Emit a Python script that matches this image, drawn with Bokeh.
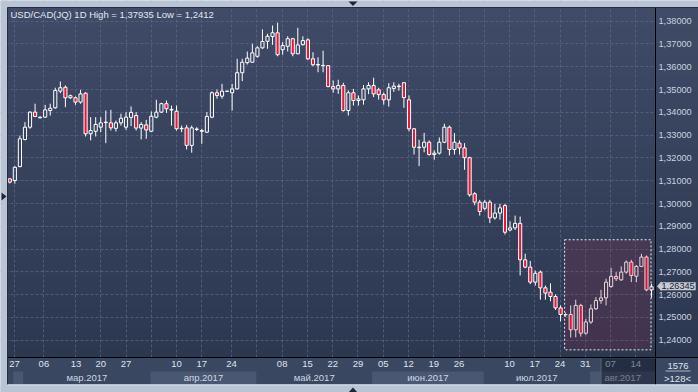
import numpy as np
from bokeh.plotting import figure
from bokeh.models import (Range1d, FixedTicker, CustomJSTickFormatter, LinearAxis,
                          BoxAnnotation, Label, PolyAnnotation, ColumnDataSource)
from bokeh.embed import file_html
from bokeh.resources import INLINE

W, H = 698, 392

# ---------------- data (USD/CAD daily candles) ----------------
opens = [1.3108, 1.3101, 1.3162, 1.3281, 1.3335, 1.3401, 1.3376, 1.3379, 1.3408, 1.3420,
         1.3493, 1.3510, 1.3464, 1.3464, 1.3445, 1.3484, 1.3306, 1.3317, 1.3335, 1.3355,
         1.3354, 1.3330, 1.3354, 1.3335, 1.3378, 1.3386, 1.3331, 1.3345, 1.3317, 1.3379,
         1.3401, 1.3438, 1.3410, 1.3405, 1.3328, 1.3332, 1.3255, 1.3325, 1.3320, 1.3313,
         1.3379, 1.3486, 1.3471, 1.3492, 1.3486, 1.3503, 1.3574, 1.3618, 1.3620, 1.3646,
         1.3683, 1.3712, 1.3733, 1.3749, 1.3675, 1.3690, 1.3723, 1.3657, 1.3697, 1.3718,
         1.3635, 1.3610, 1.3606, 1.3605, 1.3513, 1.3503, 1.3518, 1.3408, 1.3486, 1.3452,
         1.3455, 1.3503, 1.3518, 1.3499, 1.3478, 1.3455, 1.3505, 1.3515, 1.3530, 1.3455,
         1.3328, 1.3247, 1.3247, 1.3269, 1.3215, 1.3221, 1.3269, 1.3335, 1.3237, 1.3265,
         1.3244, 1.3201, 1.3043, 1.3006, 1.2979, 1.3006, 1.2937, 1.2958, 1.2991, 1.2884,
         1.2893, 1.2913, 1.2753, 1.2721, 1.2655, 1.2699, 1.2630, 1.2611, 1.2592, 1.2542,
         1.2513, 1.2513, 1.2446, 1.2553, 1.2431, 1.2480, 1.2538, 1.2574, 1.2586, 1.2636,
         1.2680, 1.2665, 1.2699, 1.2743, 1.2681, 1.2724, 1.2765, 1.2621]
highs = [1.3112, 1.3164, 1.3298, 1.3357, 1.3405, 1.3438, 1.3382, 1.3433, 1.3438, 1.3508,
         1.3535, 1.3518, 1.3478, 1.3470, 1.3499, 1.3488, 1.3379, 1.3379, 1.3379, 1.3408,
         1.3411, 1.3364, 1.3394, 1.3401, 1.3426, 1.3401, 1.3357, 1.3367, 1.3404, 1.3455,
         1.3442, 1.3452, 1.3430, 1.3430, 1.3342, 1.3345, 1.3342, 1.3335, 1.3328, 1.3401,
         1.3492, 1.3500, 1.3525, 1.3495, 1.3525, 1.3635, 1.3635, 1.3667, 1.3701, 1.3690,
         1.3764, 1.3745, 1.3781, 1.37935, 1.3708, 1.3734, 1.3727, 1.3771, 1.3734, 1.3725,
         1.3664, 1.3642, 1.3671, 1.3606, 1.3540, 1.3543, 1.3530, 1.3496, 1.3503, 1.3474,
         1.3520, 1.3532, 1.3552, 1.3508, 1.3487, 1.3528, 1.3532, 1.3525, 1.3532, 1.3474,
         1.3330, 1.3280, 1.3310, 1.3277, 1.3233, 1.3290, 1.3350, 1.3342, 1.3309, 1.3277,
         1.3265, 1.3205, 1.3050, 1.3016, 1.3016, 1.3016, 1.2999, 1.2999, 1.2999, 1.2922,
         1.2947, 1.2943, 1.2780, 1.2748, 1.2706, 1.2706, 1.2640, 1.2650, 1.2601, 1.2553,
         1.2522, 1.2553, 1.2578, 1.2560, 1.2494, 1.2557, 1.2589, 1.2621, 1.2670, 1.2718,
         1.2699, 1.2724, 1.2750, 1.2753, 1.2730, 1.2779, 1.2772, 1.2648]
lows = [1.3088, 1.3087, 1.3159, 1.3277, 1.3328, 1.3379, 1.3374, 1.3376, 1.3386, 1.3416,
        1.3484, 1.3423, 1.3459, 1.3433, 1.3438, 1.3294, 1.3277, 1.3294, 1.3313, 1.3265,
        1.3320, 1.3316, 1.3342, 1.3323, 1.3340, 1.3320, 1.3281, 1.3284, 1.3313, 1.3374,
        1.3397, 1.3398, 1.3342, 1.3320, 1.3313, 1.3237, 1.3223, 1.3318, 1.3262, 1.3309,
        1.3374, 1.3460, 1.3460, 1.3490, 1.3408, 1.3500, 1.3537, 1.3610, 1.3618, 1.3640,
        1.3679, 1.3679, 1.3696, 1.3646, 1.3653, 1.3667, 1.3646, 1.3655, 1.3693, 1.3630,
        1.3602, 1.3576, 1.3576, 1.3510, 1.3486, 1.3481, 1.3403, 1.3386, 1.3430, 1.3430,
        1.3434, 1.3480, 1.3467, 1.3456, 1.3434, 1.3425, 1.3490, 1.3495, 1.3420, 1.3317,
        1.3215, 1.3164, 1.3225, 1.3210, 1.3192, 1.3215, 1.3265, 1.3211, 1.3215, 1.3215,
        1.3148, 1.3030, 1.2992, 1.2947, 1.2970, 1.2914, 1.2929, 1.2929, 1.2864, 1.2878,
        1.2884, 1.2684, 1.2716, 1.2646, 1.2640, 1.2578, 1.2578, 1.2571, 1.2533, 1.2483,
        1.2503, 1.2412, 1.2413, 1.2416, 1.2424, 1.2472, 1.2533, 1.2560, 1.2553, 1.2630,
        1.2660, 1.2661, 1.2692, 1.2655, 1.2655, 1.2721, 1.2615, 1.2587]
closes = [1.3094, 1.3159, 1.3284, 1.3335, 1.3401, 1.3382, 1.3379, 1.3411, 1.3418, 1.3496,
          1.3508, 1.3464, 1.3473, 1.3445, 1.3481, 1.3306, 1.3320, 1.3347, 1.3354, 1.3357,
          1.3332, 1.3354, 1.3374, 1.3379, 1.3400, 1.3331, 1.3347, 1.3323, 1.3383, 1.3401,
          1.3438, 1.3416, 1.3413, 1.3328, 1.3330, 1.3255, 1.3332, 1.3327, 1.3317, 1.3382,
          1.3486, 1.3474, 1.3493, 1.3493, 1.3503, 1.3574, 1.3620, 1.3638, 1.3661, 1.3683,
          1.3711, 1.3734, 1.3749, 1.3653, 1.3693, 1.3723, 1.3657, 1.3696, 1.3715, 1.3635,
          1.3609, 1.3608, 1.3605, 1.3513, 1.3503, 1.3518, 1.3408, 1.3486, 1.3452, 1.3459,
          1.3503, 1.3518, 1.3481, 1.3478, 1.3455, 1.3508, 1.3515, 1.3513, 1.3465, 1.3328,
          1.3247, 1.3245, 1.3269, 1.3215, 1.3221, 1.3269, 1.3335, 1.3237, 1.3269, 1.3244,
          1.3201, 1.3038, 1.3006, 1.2965, 1.3006, 1.2937, 1.2958, 1.2981, 1.2874, 1.2893,
          1.2913, 1.2753, 1.2721, 1.2655, 1.2694, 1.2630, 1.2607, 1.2592, 1.2542, 1.2513,
          1.2512, 1.2446, 1.2553, 1.2431, 1.2480, 1.2538, 1.2574, 1.2586, 1.2655, 1.2680,
          1.2670, 1.2699, 1.2743, 1.2684, 1.2724, 1.2765, 1.2621, 1.26345]

price_ticks = [1.24, 1.25, 1.26, 1.27, 1.28, 1.29, 1.30, 1.31,
               1.32, 1.33, 1.34, 1.35, 1.36, 1.37, 1.38]
day_tick_pos = [0.95, 6.75, 13.1, 18, 23, 28, 33, 38, 43.9, 48.9, 53.9, 58.9, 63.9,
                68.9, 73.9, 78.9, 83.9, 88.9, 93.9, 98.9, 103.9, 108.9, 113.9, 118.9, 123.9]
day_tick_labels = ["27", "06", "13", "20", "27", "", "10", "17", "24", "", "08", "15", "22",
                   "29", "05", "12", "19", "26", "", "10", "17", "24", "31", "07", "14"]
month_edges = [0.67, 2.65, 27.85, 48.8, 71.7, 93.8, 114.8, 127.8]
month_names = ["", "мар.2017", "апр.2017", "май.2017", "июн.2017", "июл.2017", "авг.2017"]
title_text = "USD/CAD(JQ) 1D High = 1,37935 Low = 1,2412"
last_price_text = "1,26345"
corner_top_text = "1576"
corner_bottom_text = ">128<"

FONT = "Liberation Sans"

# ---------------- geometry of the panel (canvas pixels) ----------------
PX0, PX1 = 9.3, 5.053          # x pixel of candle 0 and pixels per candle
PY_REF, PY_SCALE = 20.7, 2279   # y pixel of the 1.38 line and pixels per unit price
X_PRICE_SCALE = 655            # left edge of the price scale
Y_TIME_SCALE = 357             # top edge of the time scale


def x_of(px):
    return (px - PX0) / PX1


def y_of(py):
    return 1.38 - (py - PY_REF) / PY_SCALE


# the frame covers the whole canvas so every decoration can be drawn
p = figure(width=W, height=H, title=None, output_backend="svg", toolbar_location=None,
           x_range=Range1d(x_of(0), x_of(W)), y_range=Range1d(y_of(H), y_of(0)),
           x_axis_location="below", y_axis_location="right", min_border=0)
p.background_fill_color = "#b9c5d5"
p.border_fill_color = "#b9c5d5"
p.outline_line_color = None


def cbox(l, r, t, b, color, alpha=1.0, level="image"):
    bx = BoxAnnotation(left=l, right=r, top=t, bottom=b,
                       left_units="canvas", right_units="canvas",
                       top_units="canvas", bottom_units="canvas",
                       fill_color=color, fill_alpha=alpha, line_color=None, level=level)
    p.add_layout(bx)
    return bx


# background gradient of the panel (plot + price scale)
top_rgb = np.array([63, 75, 103])
bot_rgb = np.array([44, 55, 80])
n_strips = 35
strip_cols = []
for k in range(n_strips):
    t = (k + 0.5) / n_strips
    rgb = (top_rgb * (1 - t) + bot_rgb * t).round().astype(int)
    strip_cols.append("#%02x%02x%02x" % tuple(rgb))
for k in range(n_strips):
    cbox(7, W, 7 + k * 10, 7 + (k + 1) * 10 + 0.5, strip_cols[k])

# ---------------- grid ----------------
day_ticker = FixedTicker(ticks=day_tick_pos)
price_ticker = FixedTicker(ticks=price_ticks)
p.xgrid.ticker = day_ticker
p.ygrid.ticker = price_ticker
for g in (p.xgrid[0], p.ygrid[0]):
    g.grid_line_color = "#5d6a86"
    g.grid_line_dash = "3 2"
    g.grid_line_alpha = 0.7
    g.grid_line_width = 1

# ---------------- candles ----------------
o = np.array(opens)
c = np.array(closes)
hi = np.array(highs)
lo = np.array(lows)
xs = np.arange(len(o))
body_top = np.maximum(o, c)
body_bot = np.minimum(o, c)
down = c < o
src = ColumnDataSource(dict(
    x=xs, hi=hi, lo=lo, top=body_top, bot=body_bot,
    fill=np.where(down, "#e8173c", "#ffffff"),
    falpha=np.where(down, 1.0, 0.0),
))
p.segment(x0="x", y0="hi", x1="x", y1="top", source=src, line_color="white", line_width=1)
p.segment(x0="x", y0="bot", x1="x", y1="lo", source=src, line_color="white", line_width=1)
p.vbar(x="x", width=0.62, top="top", bottom="bot", source=src,
       fill_color="fill", fill_alpha="falpha", line_color="white", line_width=1)

# price scale background (hides grid there) and time scale strip
for k in range(n_strips):
    cbox(X_PRICE_SCALE, W, 7 + k * 10, 7 + (k + 1) * 10 + 0.5, strip_cols[k], level="glyph")
cbox(7, W, Y_TIME_SCALE, 384, "#3a4761", level="glyph")
for k in range(0, len(month_edges) - 1, 2):
    p.add_layout(BoxAnnotation(left=month_edges[k], right=month_edges[k + 1],
                               left_units="data", right_units="data",
                               top=371, bottom=383.5, top_units="canvas", bottom_units="canvas",
                               fill_color="#4a5772", fill_alpha=1, line_color=None, level="glyph"))

# ---------------- axes (drawn inside the canvas-wide frame) ----------------
xa = p.xaxis[0]
xa.ticker = day_ticker
xa.fixed_location = y_of(Y_TIME_SCALE)
xa.formatter = CustomJSTickFormatter(
    args=dict(pos=day_tick_pos, labels=day_tick_labels),
    code="for (let i = 0; i < pos.length; i++) { if (Math.abs(pos[i] - tick) < 1e-6) return labels[i]; } return '';")
month_centers = [(month_edges[k] + month_edges[k + 1]) / 2 for k in range(len(month_edges) - 1)]
ma = LinearAxis(ticker=FixedTicker(ticks=month_centers),
                fixed_location=y_of(370),
                formatter=CustomJSTickFormatter(
                    args=dict(pos=month_centers, labels=month_names),
                    code="for (let i = 0; i < pos.length; i++) { if (Math.abs(pos[i] - tick) < 1e-6) return labels[i]; } return '';"))
p.add_layout(ma, "below")
for ax in (xa, ma):
    ax.axis_line_color = None
    ax.major_tick_line_color = None
    ax.minor_tick_line_color = None
    ax.major_tick_out = 0
    ax.major_tick_in = 0
    ax.major_label_text_font = FONT
    ax.major_label_text_font_size = "9.5px"
xa.major_label_text_color = "#dde3ec"
xa.major_label_standoff = 3
ma.major_label_text_color = "#cfd6e1"
ma.major_label_standoff = 1

ya = p.yaxis[0]
ya.ticker = price_ticker
ya.fixed_location = x_of(X_PRICE_SCALE)
ya.formatter = CustomJSTickFormatter(code="return tick.toFixed(5).replace('.', ',');")
ya.axis_line_color = None
ya.major_tick_line_color = None
ya.minor_tick_line_color = None
ya.major_tick_out = 0
ya.major_tick_in = 0
ya.major_label_standoff = 3
ya.major_label_text_font = FONT
ya.major_label_text_font_size = "9.2px"
ya.major_label_text_color = "#c9d2df"

# ---------------- selection overlay ----------------
p.add_layout(BoxAnnotation(left=109.8, right=126.9, bottom=1.2358, top=1.2841,
                           fill_color="#962846", fill_alpha=0.2,
                           line_color="white", line_alpha=0.9, line_width=1, line_dash="2 2"))

# dimmed part of the time scale
cbox(600.5, 654.5, 358, 384, "#0b1020", alpha=0.45, level="annotation")
cbox(600, 601, 358, 384, "#56627b", level="annotation")

# outer frame (covers whatever spills outside the panel)
frame_col = "#b9c5d5"
cbox(0, W, 0, 7, frame_col, level="annotation")
cbox(0, 7, 0, H, frame_col, level="annotation")
cbox(0, W, 384, H, frame_col, level="annotation")

# separator lines
cbox(7, W, 356.5, 357.5, "#000000", level="annotation")
cbox(654.5, 655.5, 7, 384, "#000000", level="annotation")
cbox(7, W, 6.5, 7.5, "#262e3e", level="annotation")
cbox(6.5, 7.5, 7, 384, "#262e3e", level="annotation")
cbox(7, W, 384, 385, "#d6dee9", level="annotation")

# ---------------- texts ----------------
p.add_layout(Label(x=10, y=14, x_units="canvas", y_units="canvas", text=title_text,
                   text_font=FONT, text_font_size="9.5px", text_color="#e2e7ef",
                   text_baseline="middle", text_align="left"))

# last price tag on the price scale
p.add_layout(PolyAnnotation(xs=[656.5, 661, 661], ys=[285.7, 280.7, 290.7],
                            xs_units="canvas", ys_units="canvas",
                            fill_color="#c5cbd5", fill_alpha=1, line_color=None))
p.add_layout(Label(x=660, y=285.7, x_units="canvas", y_units="canvas", text=last_price_text,
                   text_font=FONT, text_font_size="9.2px", text_color="#1b2230",
                   text_baseline="middle", text_align="left",
                   background_fill_color="#c5cbd5", background_fill_alpha=1, padding=1))

# corner of the scales
p.add_layout(Label(x=677.5, y=365, x_units="canvas", y_units="canvas", text=corner_top_text,
                   text_font=FONT, text_font_size="9.5px", text_color="#dde3ec",
                   text_baseline="middle", text_align="center"))
cbox(665, 690, 370, 371, "#aab4c4", level="annotation")
p.add_layout(Label(x=677, y=372, x_units="canvas", y_units="canvas", text=corner_bottom_text,
                   text_font=FONT, text_font_size="9.5px", text_color="#dde3ec",
                   text_baseline="top", text_align="center"))

# small triangles on the outer frame
tri_col = "#1f2636"
p.add_layout(PolyAnnotation(xs=[348, 357, 352.5], ys=[1, 1, 5.5],
                            xs_units="canvas", ys_units="canvas",
                            fill_color=tri_col, fill_alpha=1, line_color=None))
p.add_layout(PolyAnnotation(xs=[348, 357, 352.5], ys=[392, 392, 387],
                            xs_units="canvas", ys_units="canvas",
                            fill_color=tri_col, fill_alpha=1, line_color=None))
p.add_layout(PolyAnnotation(xs=[1, 1, 6], ys=[192, 200, 196],
                            xs_units="canvas", ys_units="canvas",
                            fill_color=tri_col, fill_alpha=1, line_color=None))

open("out.html", "w").write(file_html(p, INLINE))
